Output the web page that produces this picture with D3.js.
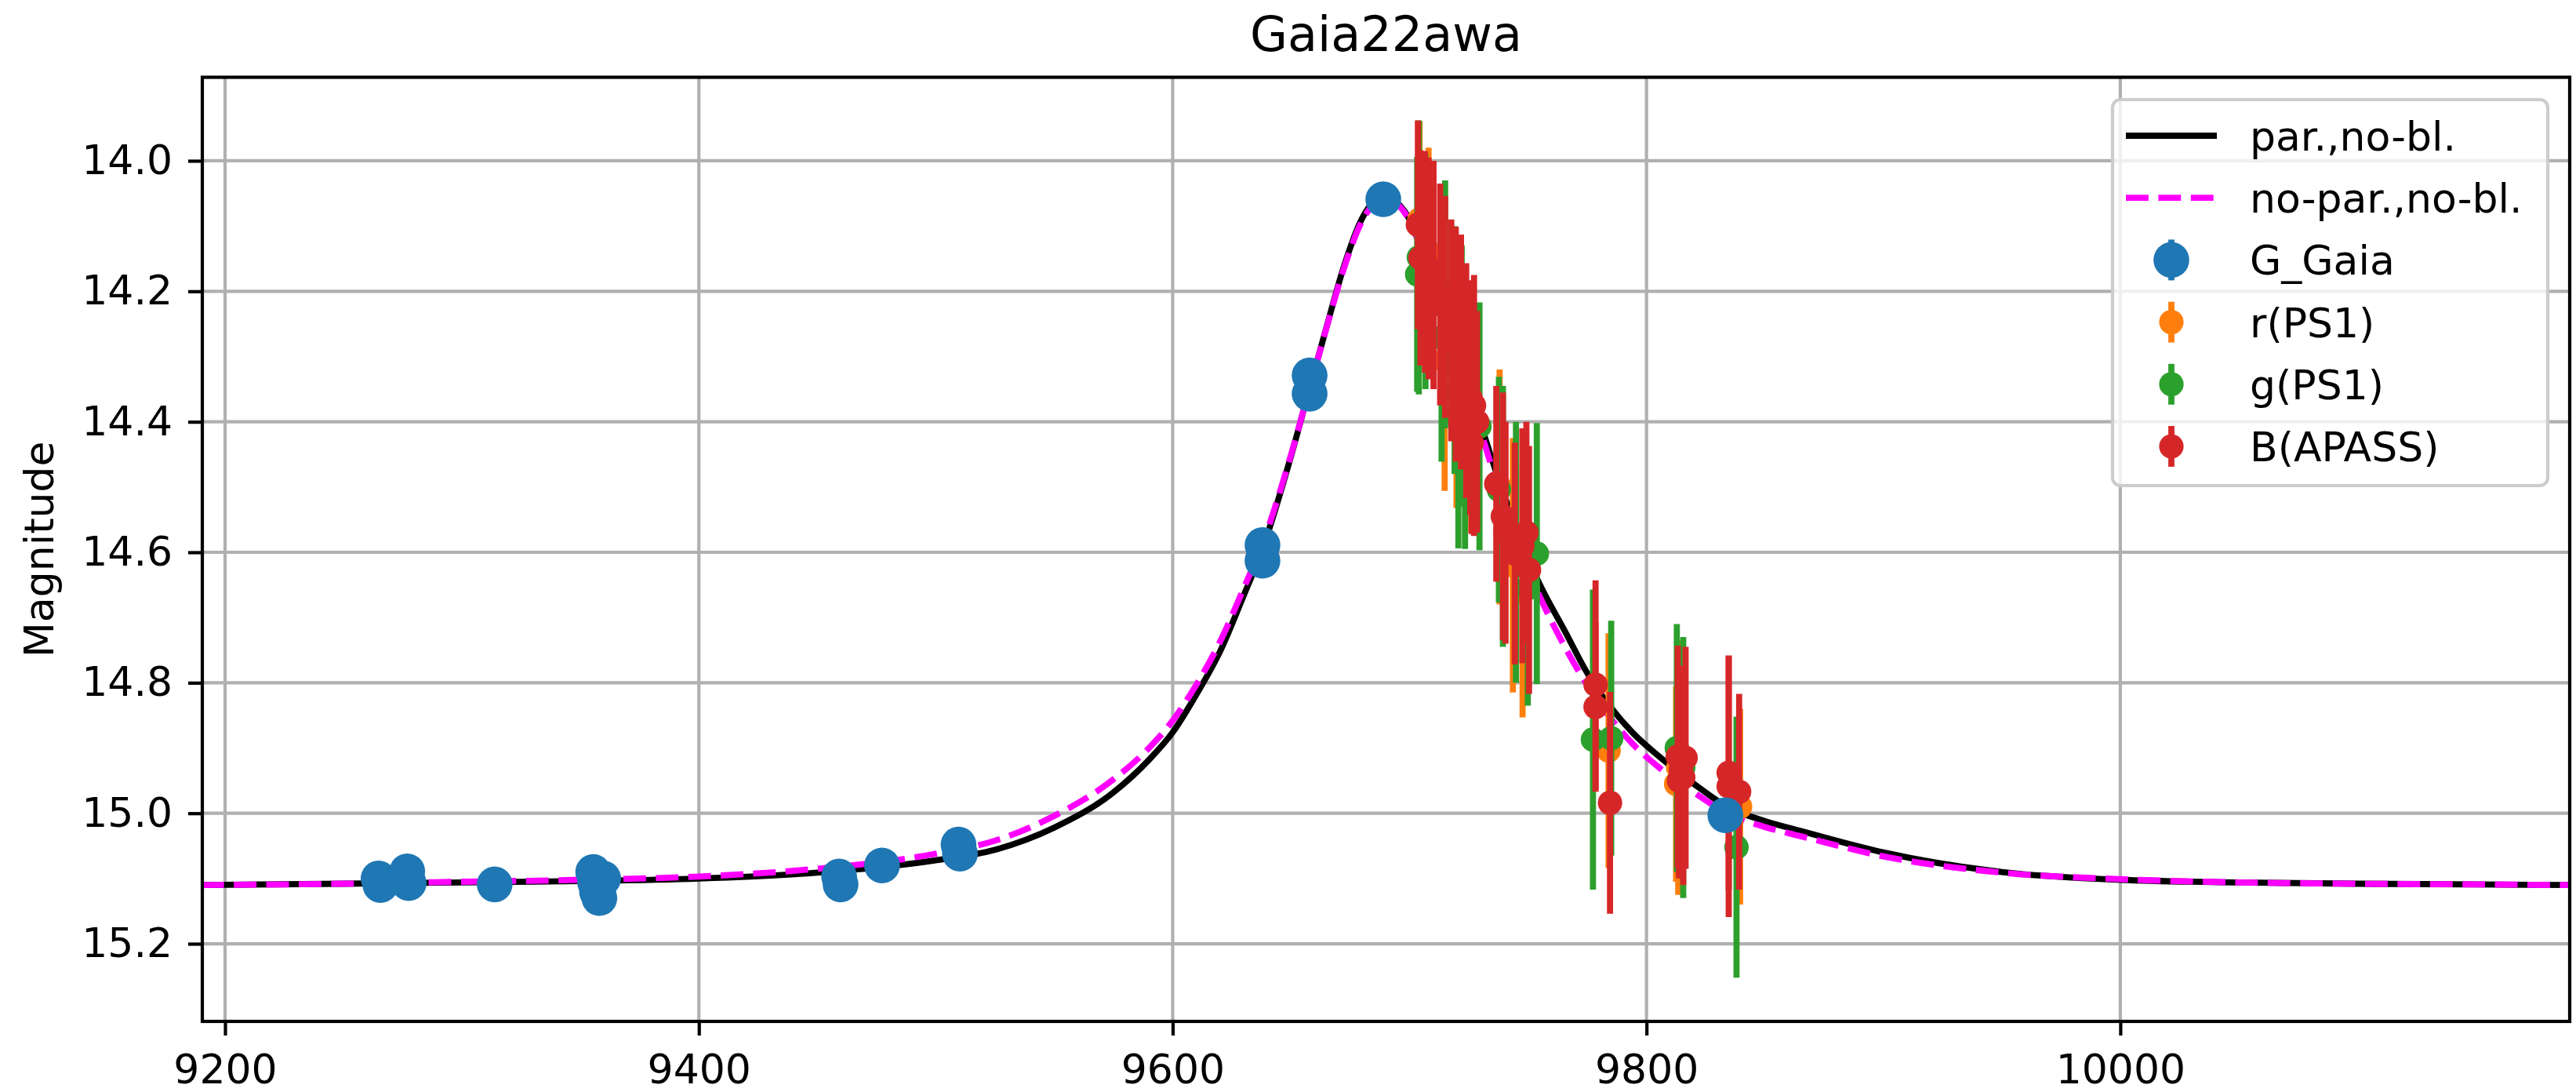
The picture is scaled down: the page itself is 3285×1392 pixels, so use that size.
<!DOCTYPE html>
<html>
<head>
<meta charset="utf-8">
<script src="https://cdn.jsdelivr.net/npm/d3@7"></script>
<style>
  body { margin: 0; background: #fff; }
  text { font-family: "DejaVu Sans", sans-serif; fill: #000; }
</style>
</head>
<body>
<svg id="chart" width="3285" height="1392"></svg>
<script>
// Labels and ticks
var chartTitle = "Gaia22awa";
var yLabel = "Magnitude";
var xTicks = [9200, 9400, 9600, 9800, 10000];
var yTicks = [14.0, 14.2, 14.4, 14.6, 14.8, 15.0, 15.2];

// Model curves (time, magnitude)
var modelT = [9190, 9250, 9300, 9350, 9400, 9450, 9500, 9525, 9550, 9575, 9590, 9600, 9610, 9620, 9630, 9638, 9650, 9658,
  9665, 9672, 9680, 9685, 9689, 9694, 9698, 9706, 9715, 9725, 9737, 9754, 9766, 9774, 9794, 9806,
  9820, 9835, 9850, 9866, 9900, 9950, 10000, 10050, 10100, 10150, 10190];
var parMag = [15.110, 15.108, 15.106, 15.104, 15.100, 15.091, 15.072, 15.056, 15.022, 14.968, 14.918, 14.876, 14.818, 14.752, 14.666, 14.594, 14.452, 14.346,
  14.254, 14.165, 14.088, 14.062, 14.055, 14.062, 14.078, 14.140, 14.232, 14.345, 14.482, 14.642, 14.724, 14.779, 14.876, 14.915,
  14.955, 14.992, 15.012, 15.028, 15.060, 15.090, 15.102, 15.106, 15.108, 15.109, 15.110];
var noparMag = [15.110, 15.108, 15.105, 15.102, 15.097, 15.085, 15.062, 15.042, 15.004, 14.948, 14.900, 14.858, 14.803, 14.737, 14.655, 14.586, 14.450, 14.346,
  14.255, 14.168, 14.092, 14.066, 14.058, 14.064, 14.080, 14.145, 14.240, 14.355, 14.495, 14.660, 14.748, 14.798, 14.893, 14.932,
  14.968, 15.002, 15.021, 15.036, 15.066, 15.091, 15.101, 15.106, 15.108, 15.109, 15.110];

// Photometry: [time, magnitude, error]
var gaiaG = [
  [9264.8, 15.100, 0.01], [9265.6, 15.110, 0.01], [9276.9, 15.089, 0.01], [9277.5, 15.107, 0.01],
  [9313.8, 15.109, 0.01], [9355.4, 15.090, 0.01], [9356.2, 15.106, 0.01], [9357.0, 15.120, 0.01],
  [9358.0, 15.130, 0.01], [9359.6, 15.100, 0.01], [9459.2, 15.097, 0.01], [9459.8, 15.109, 0.01],
  [9477.3, 15.080, 0.01], [9509.6, 15.048, 0.01], [9510.2, 15.062, 0.01], [9637.9, 14.589, 0.01],
  [9637.9, 14.613, 0.01], [9657.8, 14.329, 0.01], [9657.8, 14.357, 0.01], [9688.9, 14.059, 0.01],
  [9833.3, 15.003, 0.01]
];
var ps1r = [
  [9704.2, 14.090, 0.150], [9708.0, 14.140, 0.160], [9714.8, 14.306, 0.200], [9719.8, 14.356, 0.176],
  [9721.0, 14.300, 0.180], [9726.0, 14.400, 0.170], [9738.0, 14.500, 0.180], [9743.6, 14.620, 0.195],
  [9747.7, 14.660, 0.193], [9784.0, 14.904, 0.180], [9812.5, 14.955, 0.150], [9813.4, 14.930, 0.195],
  [9839.5, 14.990, 0.150]
];
var ps1g = [
  [9703.2, 14.174, 0.180], [9703.9, 14.148, 0.210], [9706.7, 14.170, 0.180], [9713.5, 14.271, 0.190],
  [9715.0, 14.220, 0.190], [9719.0, 14.290, 0.190], [9720.6, 14.394, 0.200], [9722.0, 14.330, 0.200],
  [9723.4, 14.400, 0.195], [9729.5, 14.407, 0.190], [9737.7, 14.504, 0.173], [9739.4, 14.545, 0.200],
  [9744.9, 14.600, 0.200], [9749.9, 14.655, 0.180], [9753.7, 14.602, 0.200], [9777.4, 14.887, 0.230],
  [9785.1, 14.885, 0.180], [9812.8, 14.900, 0.190], [9815.5, 14.930, 0.200], [9838.0, 15.052, 0.200]
];
var apassB = [
  [9703.5, 14.098, 0.160], [9704.6, 14.149, 0.165], [9706.5, 14.155, 0.170], [9708.0, 14.165, 0.170],
  [9710.1, 14.175, 0.175], [9712.9, 14.205, 0.170], [9715.0, 14.224, 0.170], [9717.6, 14.260, 0.170],
  [9719.5, 14.281, 0.180], [9721.7, 14.293, 0.180], [9723.9, 14.337, 0.180], [9725.6, 14.363, 0.180],
  [9727.2, 14.375, 0.200], [9726.2, 14.432, 0.140], [9728.5, 14.400, 0.170], [9736.6, 14.495, 0.150],
  [9739.4, 14.545, 0.190], [9740.5, 14.570, 0.170], [9744.4, 14.602, 0.170], [9747.6, 14.590, 0.180],
  [9749.3, 14.570, 0.170], [9750.4, 14.627, 0.190], [9778.5, 14.803, 0.160], [9778.5, 14.837, 0.130],
  [9784.6, 14.984, 0.170], [9813.2, 14.913, 0.170], [9814.5, 14.934, 0.160], [9813.7, 14.950, 0.150],
  [9816.5, 14.915, 0.170], [9815.5, 14.945, 0.165], [9834.7, 14.938, 0.180], [9834.7, 14.959, 0.200],
  [9839.1, 14.967, 0.150]
];

// Colours and sizes
var gaiaColour = '#1f77b4';
var rColour = '#ff7f0e';
var gColour = '#2ca02c';
var bColour = '#d62728';
var parColour = 'black';
var noparColour = '#ff00ff';
var gridColour = '#b0b0b0';
var lineWidth = 7.8;
var fontSize = 52;

var plotLeft = 258, plotRight = 3277, plotTop = 98.5, plotBottom = 1302;

var svg = d3.select("#chart");
svg.append("rect").attr("width", 3285).attr("height", 1392).attr("fill", "white");

var x = d3.scaleLinear().domain([9190.4, 10189.7]).range([plotLeft, plotRight]);
var y = d3.scaleLinear().domain([13.872, 15.319]).range([plotTop, plotBottom]);

svg.append("defs").append("clipPath").attr("id", "plotclip")
  .append("rect")
  .attr("x", plotLeft).attr("y", plotTop)
  .attr("width", plotRight - plotLeft).attr("height", plotBottom - plotTop);

// Grid
var grid = svg.append("g").attr("class", "grid");
grid.selectAll("line.gx").data(xTicks).enter().append("line")
  .attr("x1", function (d) { return x(d); }).attr("x2", function (d) { return x(d); })
  .attr("y1", plotTop).attr("y2", plotBottom)
  .attr("stroke", gridColour).attr("stroke-width", 4.2);
grid.selectAll("line.gy").data(yTicks).enter().append("line")
  .attr("y1", function (d) { return y(d); }).attr("y2", function (d) { return y(d); })
  .attr("x1", plotLeft).attr("x2", plotRight)
  .attr("stroke", gridColour).attr("stroke-width", 4.2);

// Model curves
var model = svg.append("g").attr("clip-path", "url(#plotclip)");
var line = d3.line()
  .x(function (d) { return x(d[0]); })
  .y(function (d) { return y(d[1]); })
  .curve(d3.curveMonotoneX);

model.append("path")
  .datum(d3.zip(modelT, parMag))
  .attr("d", line)
  .attr("fill", "none")
  .attr("stroke", parColour)
  .attr("stroke-width", lineWidth);

model.append("path")
  .datum(d3.zip(modelT, noparMag))
  .attr("d", line)
  .attr("fill", "none")
  .attr("stroke", noparColour)
  .attr("stroke-width", lineWidth)
  .attr("stroke-dasharray", "28.9,12.5");

// Error bars then markers, one series at a time
function addSeries(pts, colour, radius) {
  var g = svg.append("g").attr("clip-path", "url(#plotclip)");
  g.selectAll("line").data(pts).enter().append("line")
    .attr("x1", function (d) { return x(d[0]); })
    .attr("x2", function (d) { return x(d[0]); })
    .attr("y1", function (d) { return y(d[1] - d[2]); })
    .attr("y2", function (d) { return y(d[1] + d[2]); })
    .attr("stroke", colour)
    .attr("stroke-width", lineWidth);
  g.selectAll("circle").data(pts).enter().append("circle")
    .attr("cx", function (d) { return x(d[0]); })
    .attr("cy", function (d) { return y(d[1]); })
    .attr("r", radius)
    .attr("fill", colour);
}

addSeries(ps1r, rColour, 15.6);
addSeries(ps1g, gColour, 15.6);
addSeries(apassB, bColour, 15.6);
addSeries(gaiaG, gaiaColour, 22.8);

// Axes
var xAxis = svg.append("g")
  .attr("transform", "translate(0," + plotBottom + ")")
  .call(d3.axisBottom(x).tickValues(xTicks).tickSize(18).tickPadding(24).tickFormat(d3.format("d")));
var yAxis = svg.append("g")
  .attr("transform", "translate(" + plotLeft + ",0)")
  .call(d3.axisLeft(y).tickValues(yTicks).tickSize(18).tickPadding(20).tickFormat(d3.format(".1f")));

[xAxis, yAxis].forEach(function (ax) {
  ax.attr("font-size", fontSize).attr("font-family", "DejaVu Sans");
  ax.select(".domain").remove();
  ax.selectAll(".tick line").attr("stroke", "black").attr("stroke-width", 4.2);
  ax.selectAll(".tick text").attr("fill", "black");
});

// Spines
svg.append("rect")
  .attr("x", plotLeft).attr("y", plotTop)
  .attr("width", plotRight - plotLeft).attr("height", plotBottom - plotTop)
  .attr("fill", "none")
  .attr("stroke", "black")
  .attr("stroke-width", 4.2);

// Title and axis label
svg.append("text")
  .attr("x", (plotLeft + plotRight) / 2)
  .attr("y", 65)
  .attr("text-anchor", "middle")
  .attr("font-size", 62)
  .text(chartTitle);

svg.append("text")
  .attr("transform", "translate(68," + (plotTop + plotBottom) / 2 + ") rotate(-90)")
  .attr("text-anchor", "middle")
  .attr("font-size", fontSize)
  .text(yLabel);

// Legend
var legendItems = [
  { label: "par.,no-bl.", type: "line", colour: parColour },
  { label: "no-par.,no-bl.", type: "dash", colour: noparColour },
  { label: "G_Gaia", type: "point", colour: gaiaColour, r: 22.8 },
  { label: "r(PS1)", type: "point", colour: rColour, r: 15.6 },
  { label: "g(PS1)", type: "point", colour: gColour, r: 15.6 },
  { label: "B(APASS)", type: "point", colour: bColour, r: 15.6 }
];

var legend = svg.append("g").attr("class", "legend");
legend.append("rect")
  .attr("x", 2694).attr("y", 127)
  .attr("width", 555).attr("height", 492)
  .attr("rx", 10).attr("ry", 10)
  .attr("fill", "white").attr("fill-opacity", 0.8)
  .attr("stroke", "#cccccc").attr("stroke-width", 4.2);

var rowTop = 173, rowStep = 79.2;
var handleX1 = 2711, handleX2 = 2827, handleMid = 2769;

legendItems.forEach(function (item, i) {
  var cy = rowTop + i * rowStep;
  if (item.type === "line" || item.type === "dash") {
    var l = legend.append("line")
      .attr("x1", handleX1).attr("x2", handleX2)
      .attr("y1", cy).attr("y2", cy)
      .attr("stroke", item.colour)
      .attr("stroke-width", lineWidth);
    if (item.type === "dash") l.attr("stroke-dasharray", "28.9,12.5");
  } else {
    legend.append("line")
      .attr("x1", handleMid).attr("x2", handleMid)
      .attr("y1", cy - 26).attr("y2", cy + 26)
      .attr("stroke", item.colour)
      .attr("stroke-width", lineWidth);
    legend.append("circle")
      .attr("cx", handleMid).attr("cy", cy)
      .attr("r", item.r)
      .attr("fill", item.colour);
  }
  legend.append("text")
    .attr("x", 2869)
    .attr("y", cy + 19)
    .attr("font-size", fontSize)
    .text(item.label);
});
</script>
</body>
</html>
